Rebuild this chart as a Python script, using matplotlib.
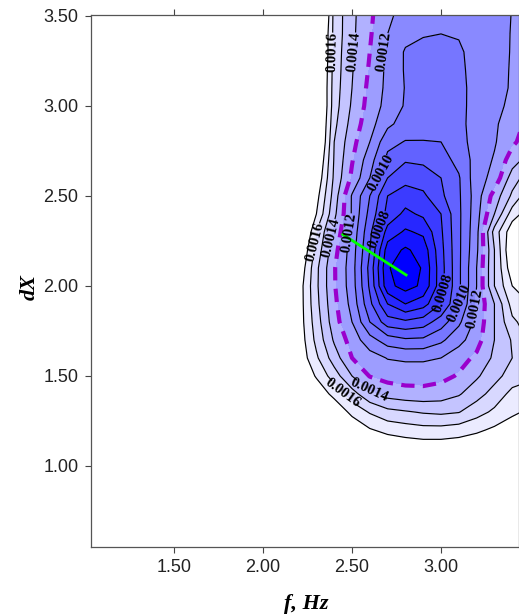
import numpy as np
import matplotlib
matplotlib.use("Agg")
import matplotlib.pyplot as plt

# grid (values in units of 1e-4)
F_HZ = [2.0, 2.1, 2.2, 2.3, 2.4, 2.5, 2.6, 2.7, 2.8, 2.9, 3.0, 3.1, 3.2, 3.3, 3.4, 3.5]
DX = [1.0, 1.1, 1.2, 1.3, 1.4, 1.5, 1.6, 1.7, 1.8, 1.9, 2.0, 2.1, 2.2, 2.3,
      2.4, 2.5, 2.6, 2.7, 2.8, 2.9, 3.0, 3.1, 3.2, 3.3, 3.4, 3.5, 3.6]
Z_E4 = [
    [22, 22, 22, 21.8, 21.2, 20.5, 19.8, 19.3, 19.0, 18.9, 18.9, 19.0, 19.2, 19.4, 19.7, 20.0],
    [22, 22, 21.5, 21.0, 20.2, 19.3, 18.5, 17.9, 17.7, 17.6, 17.6, 17.7, 17.9, 18.2, 18.5, 18.7],
    [22, 21.5, 20.8, 20.0, 19.0, 17.9, 17.1, 16.7, 16.5, 16.35, 16.35, 16.5, 16.8, 17.2, 17.6, 17.8],
    [22, 21.0, 19.8, 18.9, 17.9, 16.7, 15.9, 15.3, 15.1, 14.9, 14.8, 14.95, 15.6, 16.2, 16.8, 17.2],
    [22, 20.5, 18.8, 17.8, 16.67, 15.43, 14.22, 13.6, 13.4, 13.35, 13.5, 13.9, 14.6, 15.4, 16.3, 16.5],
    [22, 20.0, 18.2, 16.88, 15.5, 14.0, 12.95, 12.65, 12.55, 12.55, 12.7, 13.1, 13.85, 14.65, 15.45, 15.8],
    [22, 20.0, 17.8, 16.17, 14.5, 13.0, 12.44, 11.95, 11.85, 11.85, 12.0, 12.6, 13.2, 14.2, 15.0, 15.8],
    [22, 20.0, 17.7, 15.73, 13.86, 12.56, 11.38, 10.5, 10.15, 10.2, 10.8, 11.65, 12.6, 14.0, 15.1, 16.2],
    [22, 20.0, 17.6, 15.5, 13.43, 12.0, 10.0, 8.45, 8.2, 8.5, 9.5, 10.8, 12.3, 14.0, 15.8, 16.5],
    [22, 20.0, 17.6, 15.3, 13.25, 11.67, 9.25, 7.0, 6.0, 6.6, 8.0, 10.0, 12.15, 14.0, 16.4, 17.0],
    [22, 20.0, 17.6, 15.2, 13.1, 11.48, 8.83, 5.3, 4.6, 5.2, 7.6, 9.8, 12.0, 15.0, 17.0, 17.3],
    [22, 20.2, 17.95, 15.24, 13.09, 11.44, 8.67, 5.1, 4.4, 5.1, 7.6, 9.8, 12.0, 15.0, 17.7, 18.3],
    [22, 20.5, 18.4, 15.63, 13.36, 11.5, 9.0, 5.5, 4.85, 5.4, 7.7, 9.8, 11.8, 15.0, 18.1, 18.9],
    [22, 21.0, 19.3, 16.0, 13.73, 11.7, 9.25, 6.6, 5.85, 6.2, 7.85, 9.8, 11.7, 15.4, 17.7, 18.5],
    [22, 21.0, 19.5, 17.0, 14.25, 11.9, 9.67, 7.67, 6.75, 7.2, 8.0, 9.8, 11.6, 14.0, 16.5, 17.6],
    [22, 21.5, 20.0, 17.4, 14.55, 11.9, 10.0, 8.0, 7.5, 7.8, 8.8, 9.85, 11.5, 13.4, 15.2, 16.8],
    [22, 21.5, 20.2, 17.94, 14.8, 12.8, 11.0, 9.0, 8.35, 8.5, 9.0, 9.9, 11.6, 12.3, 14.5, 15.6],
    [22, 22, 20.5, 18.4, 14.91, 13.08, 11.4, 9.75, 9.1, 9.2, 9.6, 10.3, 11.4, 12.1, 13.5, 14.5],
    [22, 22, 20.8, 19.0, 15.0, 13.33, 12.0, 10.29, 9.95, 9.95, 10.0, 10.7, 11.33, 11.9, 12.8, 13.6],
    [22, 22, 21, 19.1, 15.25, 13.62, 12.37, 11.24, 10.55, 10.5, 10.6, 10.8, 11.3, 11.8, 12.7, 13.2],
    [22, 22, 21, 19.3, 15.44, 13.86, 12.6, 11.64, 10.9, 10.6, 10.6, 10.8, 11.26, 11.7, 12.25, 12.85],
    [22, 22, 21, 19.2, 15.51, 14.0, 12.73, 11.74, 10.95, 10.7, 10.7, 10.8, 11.25, 11.67, 12.1, 12.5],
    [22, 22, 21, 19.3, 15.57, 14.07, 12.88, 11.76, 10.9, 10.75, 10.75, 10.85, 11.25, 11.67, 12.08, 12.45],
    [22, 22, 21, 19.6, 15.61, 14.13, 13.0, 11.78, 10.9, 10.8, 10.8, 10.9, 11.25, 11.65, 12.06, 12.4],
    [22, 22, 21, 19.5, 15.67, 14.22, 13.11, 12.0, 11.3, 11.05, 11.0, 11.05, 11.3, 11.65, 12.05, 12.35],
    [22, 22, 21, 20.1, 15.67, 14.25, 13.18, 12.2, 11.6, 11.35, 11.3, 11.35, 11.5, 11.75, 12.02, 12.3],
    [22, 22, 21, 19.9, 15.75, 14.31, 13.25, 12.29, 11.7, 11.45, 11.4, 11.45, 11.6, 11.8, 12.05, 12.3],
]
LEVELS_E4 = [5, 6, 7, 8, 9, 10, 11, 12, 13, 14, 15, 16, 17]
DASHED_E4 = 13
LABELED_E4 = [8, 10, 12, 14, 16]

# green segment
SEG_F = [2.448, 2.804]
SEG_DX = [2.286, 2.061]

X_TICKS = [1.5, 2.0, 2.5, 3.0]
Y_TICKS = [1.0, 1.5, 2.0, 2.5, 3.0, 3.5]

z = np.array(Z_E4) * 1e-4
levels = np.array(LEVELS_E4) * 1e-4

fig = plt.figure(figsize=(5.19, 6.15), dpi=100)
ax = fig.add_axes([91 / 519, 68 / 615, 428 / 519, 532 / 615])

# filled bands: blue in the middle, fading to white
fill_levels = np.concatenate([[0.0], levels])
n = len(fill_levels) - 1
band_colors = [(k / n, k / n, 1.0) for k in range(n)]
ax.contourf(F_HZ, DX, z, levels=fill_levels, colors=band_colors)

plain = [l for l in LEVELS_E4 if l != DASHED_E4 and l not in LABELED_E4]
ax.contour(F_HZ, DX, z, levels=np.array(plain) * 1e-4,
           colors="black", linewidths=0.85)
cs_lab = ax.contour(F_HZ, DX, z, levels=np.array(LABELED_E4) * 1e-4,
                    colors="black", linewidths=0.85)
ax.contour(F_HZ, DX, z, levels=[DASHED_E4 * 1e-4], colors="#9a00cc",
           linewidths=3.0, linestyles=[(0, (3.2, 2.0))])

label_pos = [(2.38, 3.30), (2.515, 3.30), (2.68, 3.30),
             (2.28, 2.25), (2.375, 2.27), (2.47, 2.30),
             (2.65, 2.32), (2.66, 2.63),
             (3.02, 1.96), (3.11, 1.90), (3.20, 1.87),
             (2.61, 1.455), (2.46, 1.43)]
with matplotlib.rc_context({"font.family": "Liberation Serif", "font.weight": "bold"}):
    ax.clabel(cs_lab, manual=label_pos, fmt=lambda v: f"{v:.4f}",
              fontsize=10.5, inline=True, inline_spacing=2)

ax.plot(SEG_F, SEG_DX, color="#00ff00", lw=2)

ax.set_xlim(1.034, 3.438)
ax.set_ylim(0.55, 3.505)
ax.set_xticks(X_TICKS)
ax.set_yticks(Y_TICKS)
ax.set_xticklabels([f"{v:.2f}" for v in X_TICKS])
ax.set_yticklabels([f"{v:.2f}" for v in Y_TICKS])
ax.tick_params(direction="out", length=4, width=0.8, color="#444444",
               top=True, right=True, labelsize=13, pad=5)
for lab in ax.get_xticklabels() + ax.get_yticklabels():
    lab.set_fontfamily("Liberation Sans")
    lab.set_color("#222222")
for s in ax.spines.values():
    s.set_color("#555555")
    s.set_linewidth(0.9)

fig.text(306 / 519, 1 - 604 / 615, "f, Hz", ha="center", va="center",
         family="Liberation Serif", weight="bold", style="italic", fontsize=16)
fig.text(30 / 519, 1 - 287 / 615, "dX", ha="center", va="center", rotation=90,
         family="Liberation Serif", weight="bold", style="italic", fontsize=16)

fig.savefig("out.png", dpi=100)
